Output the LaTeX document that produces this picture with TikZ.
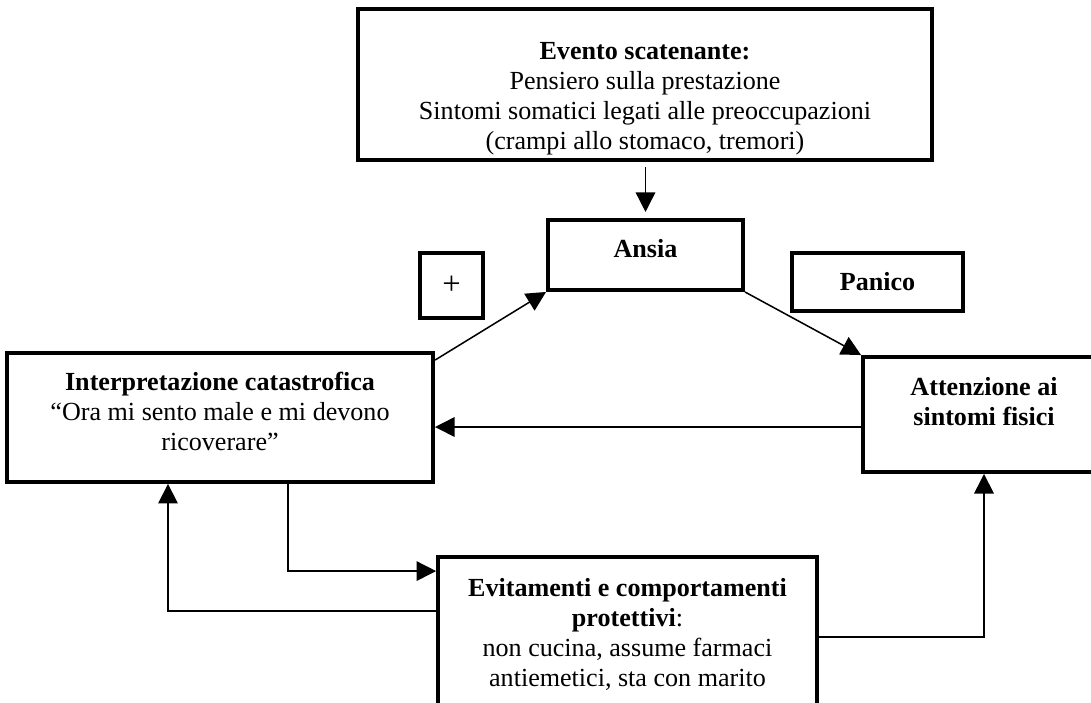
\documentclass[tikz,border=0pt]{standalone}
\usepackage{fontspec}
\setmainfont{Liberation Serif}
\usepackage{tikz}
\usetikzlibrary{calc,positioning,arrows.meta}

\newcommand{\boxtext}[2]{\raisebox{#1}[\height][\depth]{%
  \begin{tabular}{@{}c@{}}#2\end{tabular}}}

\begin{document}
\begin{tikzpicture}[x=0.46pt,y=-0.46pt,
  blk/.style={draw,rectangle,line width=1.8pt,inner sep=0pt,
    font=\fontsize{12}{13.8}\selectfont},
  arr/.style={line width=0.7pt,-{Triangle[length=9pt,width=9pt]}}]
\useasboundingbox (0,0) rectangle (1091,702);
\clip (0,0) rectangle (1091,702);
\node at (645,84.5) (evento) [blk,minimum width=264pt,minimum height=69.5pt]{%
  \boxtext{-6.5pt}{\textbf{Evento scatenante:}\\
    Pensiero sulla prestazione\\
    Sintomi somatici legati alle preoccupazioni\\
    (crampi allo stomaco, tremori)}};
\node at (645.5,255) (ansia) [blk,minimum width=89.7pt,minimum height=32.2pt]{%
  \boxtext{1.5pt}{\textbf{Ansia}}};
\node at (451.5,285.5) (piu) [blk,minimum width=29pt,minimum height=29.9pt,
  font=\fontsize{15}{16}\selectfont]{+};
\node at (877.5,282) (panico) [blk,minimum width=78.7pt,minimum height=26.7pt]{%
  \textbf{Panico}};
\node at (220,417.5) (interp) [blk,minimum width=196pt,minimum height=59.3pt]{%
  \boxtext{1.6pt}{\textbf{Interpretazione catastrofica}\\
    “Ora mi sento male e mi devono\\
    ricoverare”}};
\node at (984,414.5) (attenzione) [blk,minimum width=111.3pt,minimum height=52.9pt]{%
  \boxtext{4.6pt}{\textbf{Attenzione ai}\\ \textbf{sintomi fisici}}};
\node at (627.5,633) (evitamenti) [blk,minimum width=174.3pt,minimum height=69.9pt]{%
  \boxtext{-1.2pt}{\textbf{Evitamenti e comportamenti}\\
    \textbf{protettivi}:\\
    non cucina, assume farmaci\\
    antiemetici, sta con marito}};

% connettori
\draw[arr,shorten <=2.3pt,shorten >=2.8pt] (ansia.north |- evento.south) -- (ansia.north);
\draw[arr] ($(interp.north east)+(0,9)$) -- (ansia.south west);
\draw[arr] (ansia.south east) -- (attenzione.north west);
\draw[arr] ($(attenzione.west)+(0,12.5)$) -- ($(interp.east)+(0,9.5)$);
\draw[arr] ($(interp.south)+(68,0)$) |- ($(evitamenti.north west)+(0,16)$);
\draw[arr] ($(evitamenti.north west)+(0,56)$) -| ($(interp.south)+(-52,0)$);
\draw[arr] ($(evitamenti.north east)+(0,82)$) -| (attenzione.south);
\end{tikzpicture}
\end{document}
